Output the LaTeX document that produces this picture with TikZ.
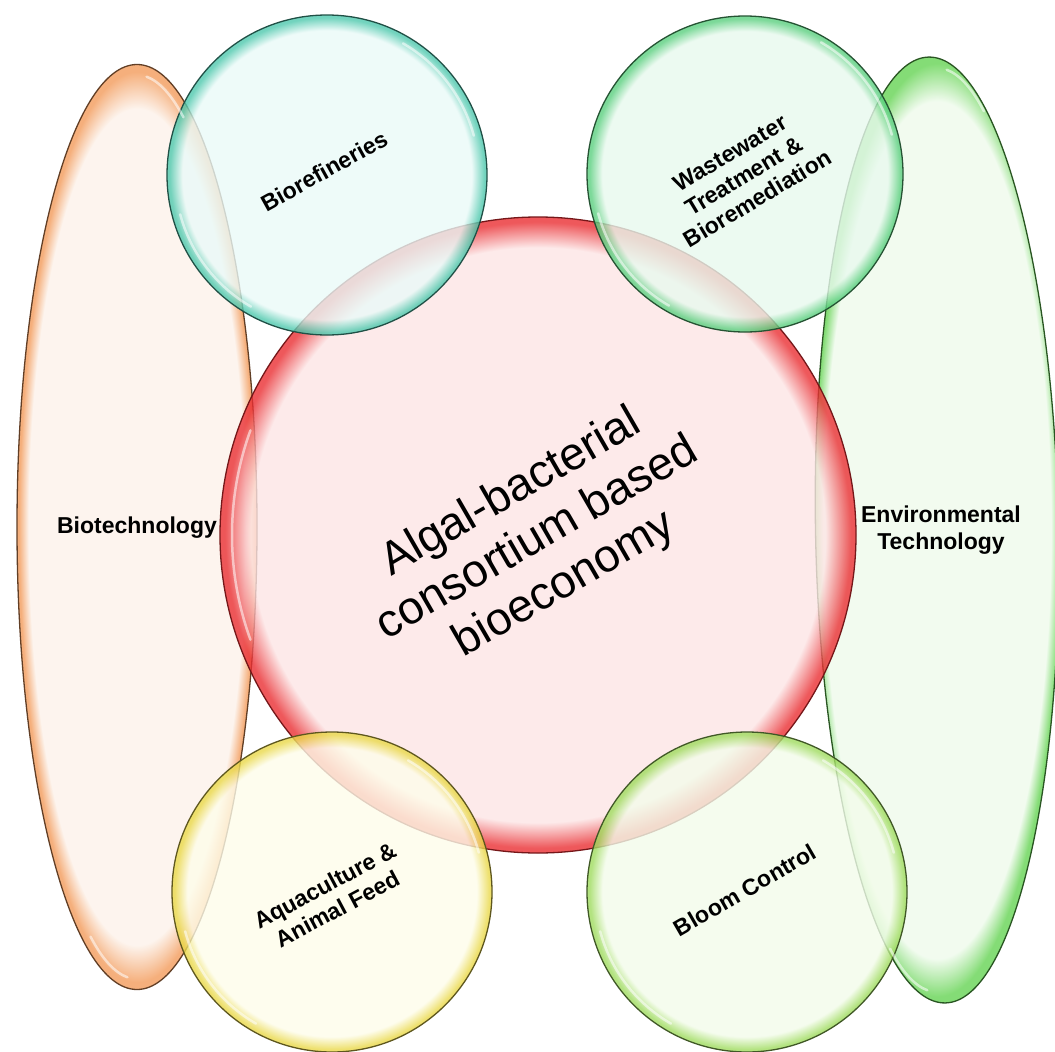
\documentclass[tikz,border=0pt]{standalone}
\usepackage{fontspec}
\setmainfont{Liberation Sans}
\usetikzlibrary{shapes.geometric}
\definecolor{redF}{HTML}{FDE5E5}
\definecolor{redR}{HTML}{EA2F33}
\definecolor{cyanF}{HTML}{EAFAF8}
\definecolor{cyanR}{HTML}{4FC9AE}
\definecolor{wgF}{HTML}{E8F9EE}
\definecolor{wgR}{HTML}{5CD080}
\definecolor{yelF}{HTML}{FEFDEA}
\definecolor{yelR}{HTML}{EAD94A}
\definecolor{bcF}{HTML}{F3FCEA}
\definecolor{bcR}{HTML}{A0DC60}
\definecolor{orF}{HTML}{FDF2EA}
\definecolor{orR}{HTML}{F39C5C}
\definecolor{enF}{HTML}{EFFBEC}
\definecolor{enR}{HTML}{66D454}
\newcommand\mkshade[3]{\pgfdeclareradialshading{#1}{\pgfpoint{0bp}{0bp}}{color(0bp)=(#2); color(22.6bp)=(#2); color(24.6bp)=(#3); color(25bp)=(#3); color(50bp)=(#3)}}
\mkshade{shRed}{redF}{redR}
\mkshade{shCyan}{cyanF}{cyanR}
\mkshade{shWg}{wgF}{wgR}
\mkshade{shYel}{yelF}{yelR}
\mkshade{shBc}{bcF}{bcR}
\mkshade{shOr}{orF}{orR}
\mkshade{shEn}{enF}{enR}
\tikzset{
  bubble/.style={circle, inner sep=0pt, outer sep=0pt, fill opacity=0.8, line width=1.3pt},
  oval/.style={ellipse, inner sep=0pt, outer sep=0pt, fill opacity=0.8, line width=1.3pt},
  lab/.style={font=\bfseries\fontsize{23}{26.5}\selectfont, align=center, text=black},
  hl/.style={white, line width=2.5pt, opacity=0.55, line cap=round}
}
\begin{document}
\begin{tikzpicture}[x=1pt,y=-1pt]
\useasboundingbox (0,0) rectangle (1055,1052);
\fill[white] (0,0) rectangle (1055,1052);
\clip (0,0) rectangle (1055,1052);
% ellipses
\node[oval, shading=shOr, draw=orR!40!black, minimum width=240pt, minimum height=925pt] (biotech) at (137,527) {};
\node[oval, shading=shEn, draw=enR!40!black, minimum width=243pt, minimum height=946pt, rotate=1] (envtech) at (937,530) {};
% central circle
\node[bubble, shading=shRed, draw=redR!50!black, minimum size=636pt] (cen) at (538,535) {};
% small circles
\node[bubble, shading=shCyan, draw=cyanR!40!black, minimum size=320pt] (bioref) at (327,175) {};
\node[bubble, shading=shWg, draw=wgR!40!black, minimum size=316pt] (waste) at (745,174) {};
\node[bubble, shading=shYel, draw=yelR!40!black, minimum size=320pt] (aqua) at (332,892) {};
\node[bubble, shading=shBc, draw=bcR!40!black, minimum size=320pt] (bloom) at (747,892) {};
% glassy highlights
\draw[hl] (cen.center) ++(160:306pt) arc[start angle=160, end angle=200, radius=306pt];
\foreach \n in {bioref,waste,aqua,bloom}{
  \draw[hl] (\n.center) ++(15:152pt) arc[start angle=15, end angle=60, radius=152pt];
  \draw[hl] (\n.center) ++(195:152pt) arc[start angle=195, end angle=240, radius=152pt];
}
\draw[hl] (biotech.center) ++({cos(65)*110pt},{sin(65)*452pt}) arc[start angle=65, end angle=85, x radius=110pt, y radius=452pt];
\draw[hl] (biotech.center) ++({cos(245)*110pt},{sin(245)*452pt}) arc[start angle=245, end angle=265, x radius=110pt, y radius=452pt];
\draw[hl] (envtech.center) ++({cos(65)*111pt},{sin(65)*462pt}) arc[start angle=65, end angle=85, x radius=111pt, y radius=462pt];
\draw[hl] (envtech.center) ++({cos(245)*111pt},{sin(245)*462pt}) arc[start angle=245, end angle=265, x radius=111pt, y radius=462pt];
% labels
\node[font=\fontsize{46}{53}\selectfont, align=center, rotate=30] (tcen) at (538,539) {Algal-bacterial\\consortium based\\bioeconomy};
\node[lab] (tbiotech) at (137,528) {Biotechnology};
\node[lab] (tenv) at (941,530) {Environmental\\Technology};
\node[lab, rotate=29] (tbioref) at (324,171) {Biorefineries};
\node[lab, rotate=31] (twaste) at (744,176) {Wastewater\\Treatment \&\\Bioremediation};
\node[lab, rotate=28] (taqua) at (331,897) {Aquaculture \&\\Animal Feed};
\node[lab, rotate=30] (tbloom) at (745,890) {Bloom Control};
\end{tikzpicture}
\end{document}
